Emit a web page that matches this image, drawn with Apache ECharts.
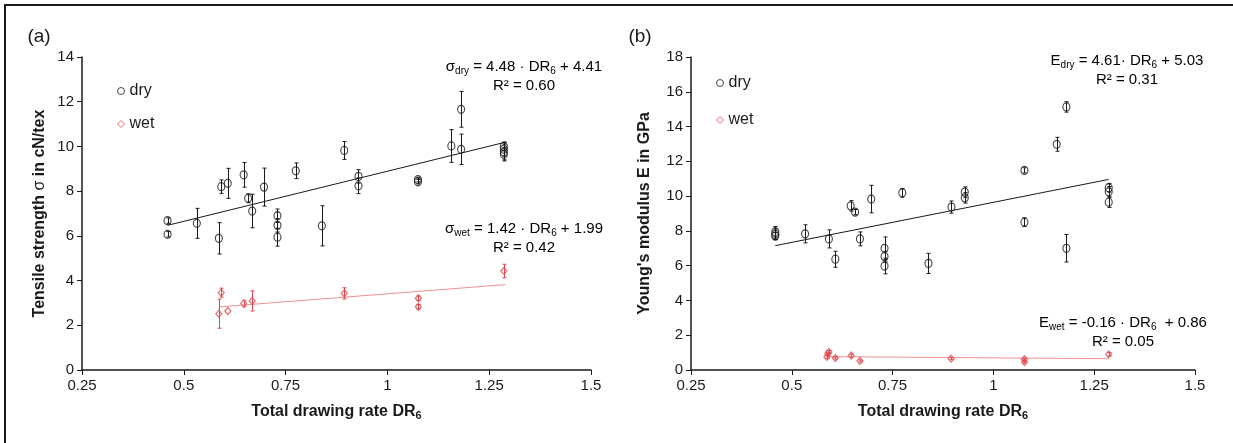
<!DOCTYPE html>
<html>
<head>
<meta charset="UTF-8">
<title>DR6 - tensile strength / Young's modulus</title>
<style>
    html, body { margin: 0; padding: 0; background: #fff; }
    #chart { width: 1233px; height: 443px; }
</style>
</head>
<body>
<div id="chart"></div>
<script src="https://cdn.jsdelivr.net/npm/echarts@6/dist/echarts.min.js"></script>
<script>
// points are [DR6, mean, std]
var strengthDry = [
    [0.46, 6.68, 0.12], [0.46, 6.07, 0.12], [0.532, 6.56, 0.67], [0.586, 5.89, 0.7],
    [0.592, 8.2, 0.3], [0.608, 8.35, 0.67], [0.647, 8.73, 0.55], [0.658, 7.68, 0.2],
    [0.668, 7.11, 0.75], [0.697, 8.18, 0.85], [0.73, 6.9, 0.3], [0.73, 6.47, 0.3],
    [0.73, 5.94, 0.4], [0.775, 8.91, 0.35], [0.839, 6.45, 0.9], [0.894, 9.82, 0.4],
    [0.929, 8.66, 0.3], [0.929, 8.24, 0.35], [1.075, 8.42, 0.1], [1.075, 8.52, 0.1],
    [1.157, 10.02, 0.73], [1.181, 11.66, 0.8], [1.181, 9.87, 0.68], [1.286, 10.0, 0.2],
    [1.286, 9.87, 0.3], [1.286, 9.75, 0.35], [1.286, 9.65, 0.3]
];
var strengthWet = [
    [0.586, 2.52, 0.65], [0.592, 3.46, 0.2], [0.608, 2.64, 0], [0.647, 2.97, 0.15],
    [0.668, 3.09, 0.45], [0.894, 3.43, 0.25], [1.076, 3.21, 0.1], [1.076, 2.83, 0.1],
    [1.286, 4.43, 0.3]
];
var modulusDry = [
    [0.459, 7.95, 0.3], [0.459, 7.8, 0.3], [0.459, 7.7, 0.2], [0.533, 7.83, 0.52],
    [0.592, 7.54, 0.52], [0.608, 6.37, 0.46], [0.646, 9.44, 0.3], [0.657, 9.08, 0.15],
    [0.669, 7.54, 0.4], [0.697, 9.83, 0.79], [0.73, 7.0, 0.65], [0.73, 6.52, 0.3],
    [0.73, 5.98, 0.45], [0.774, 10.19, 0.25], [0.839, 6.13, 0.58], [0.896, 9.37, 0.35],
    [0.929, 10.23, 0.3], [0.929, 9.9, 0.3], [1.077, 11.48, 0.15], [1.077, 8.5, 0.25],
    [1.157, 12.98, 0.4], [1.181, 15.13, 0.3], [1.181, 7.0, 0.79], [1.286, 10.48, 0.25],
    [1.286, 10.25, 0.3], [1.286, 9.65, 0.3]
];
var modulusWet = [
    [0.587, 0.75, 0.08], [0.589, 0.94, 0.08], [0.592, 1.04, 0.08], [0.608, 0.69, 0.06],
    [0.647, 0.83, 0.08], [0.669, 0.52, 0.06], [0.895, 0.65, 0.06], [1.077, 0.62, 0.06],
    [1.077, 0.46, 0.06], [1.286, 0.9, 0.1]
];
// fit line end points
var strengthDryFit = [[0.46, 6.47], [1.29, 10.19]];
var strengthWetFit = [[0.586, 2.82], [1.29, 3.82]];
var modulusDryFit = [[0.459, 7.15], [1.286, 10.96]];
var modulusWetFit = [[0.587, 0.77], [1.286, 0.65]];

var xTicks = { min: 0.25, max: 1.5, interval: 0.25 };
var strengthTicks = { min: 0, max: 14, interval: 2 };
var modulusTicks = { min: 0, max: 18, interval: 2 };

var font = '"Liberation Sans", Arial, sans-serif';
var ink = '#1a1a1a';
var red = '#e0464e';
var redLine = '#f09090';

var chart = echarts.init(document.getElementById('chart'));

function errorBars(color) {
    return function (params, api) {
        var x = api.value(0), y = api.value(1), e = api.value(2);
        if (!e) return null;
        var top = api.coord([x, y + e]), bot = api.coord([x, y - e]);
        var cx = Math.round(top[0]) + 0.5, c = 2;
        var st = { stroke: color, lineWidth: 1 };
        return {
            type: 'group',
            children: [
                { type: 'line', shape: { x1: cx, y1: top[1], x2: cx, y2: bot[1] }, style: st },
                { type: 'line', shape: { x1: cx - c, y1: top[1], x2: cx + c, y2: top[1] }, style: st },
                { type: 'line', shape: { x1: cx - c, y1: bot[1], x2: cx + c, y2: bot[1] }, style: st }
            ]
        };
    };
}

var titleRich = {
    b: { fontSize: 16, fontWeight: 'bold', fontFamily: font, color: ink },
    n: { fontSize: 16, fontFamily: font, color: ink },
    s: { fontSize: 11, fontWeight: 'bold', fontFamily: font, color: ink, padding: [8, 0, 0, 0] }
};

function xAxisFor(gi) {
    return {
        type: 'value', gridIndex: gi,
        min: xTicks.min, max: xTicks.max, interval: xTicks.interval,
        name: '{b|Total drawing rate DR}{s|6}',
        nameLocation: 'middle', nameGap: 32,
        nameTextStyle: { rich: titleRich },
        axisLine: { onZero: false, lineStyle: { color: ink, width: 1.5 } },
        axisTick: { length: 5, lineStyle: { color: ink } },
        axisLabel: { fontSize: 15, color: ink, fontFamily: font, margin: 8 },
        splitLine: { show: false }
    };
}

function yAxisFor(gi, ticks, name, gap) {
    return {
        type: 'value', gridIndex: gi,
        min: ticks.min, max: ticks.max, interval: ticks.interval,
        name: name, nameLocation: 'middle', nameGap: gap,
        nameTextStyle: { rich: titleRich },
        axisLine: { onZero: false, lineStyle: { color: ink, width: 1.5 } },
        axisTick: { length: 5, lineStyle: { color: ink } },
        axisLabel: { fontSize: 15, color: ink, fontFamily: font, margin: 8 },
        splitLine: { show: false }
    };
}

function points(name, data, gi, symbol, size, color) {
    return {
        name: name, type: 'scatter', xAxisIndex: gi, yAxisIndex: gi,
        data: data, symbol: symbol, symbolSize: size, z: 4,
        itemStyle: { color: 'rgba(0,0,0,0)', borderColor: color, borderWidth: 1.2 }
    };
}

function bars(data, gi, color) {
    return {
        name: 'err', type: 'custom', xAxisIndex: gi, yAxisIndex: gi,
        data: data, renderItem: errorBars(color), encode: { x: 0, y: 1 }, z: 3, silent: true
    };
}

function fit(data, gi, color) {
    return {
        name: 'fit', type: 'line', xAxisIndex: gi, yAxisIndex: gi,
        data: data, symbol: 'none', z: 2, silent: true,
        lineStyle: { color: color, width: 1 }
    };
}

var eqRich = {
    t: { fontSize: 15, fontFamily: font, color: ink, lineHeight: 19 },
    s: { fontSize: 10, fontFamily: font, color: ink, padding: [9, 0, 0, 0] }
};

function equation(text, x, y) {
    return {
        type: 'text', x: x, y: y,
        style: { text: text, rich: eqRich, align: 'center', verticalAlign: 'middle' }
    };
}

function legendFor(left, top, gap) {
    return {
        left: left, top: top, orient: 'vertical',
        itemWidth: 7, itemHeight: 7, itemGap: gap, selectedMode: false,
        textStyle: { fontSize: 16, fontFamily: font, color: ink },
        data: [
            { name: 'dry', icon: 'circle', itemStyle: { color: 'rgba(0,0,0,0)', borderColor: ink, borderWidth: 1 } },
            { name: 'wet', icon: 'diamond', itemStyle: { color: 'rgba(0,0,0,0)', borderColor: red, borderWidth: 1 } }
        ]
    };
}

var option = {
    animation: false,
    backgroundColor: '#fff',
    textStyle: { fontFamily: font },
    grid: [
        { left: 82, right: 642, top: 57, bottom: 73 },
        { left: 691, right: 38, top: 57, bottom: 73 }
    ],
    xAxis: [xAxisFor(0), xAxisFor(1)],
    yAxis: [
        yAxisFor(0, strengthTicks, '{b|Tensile strength }{n|σ}{b| in cN/tex}', 34),
        yAxisFor(1, modulusTicks, "{b|Young's modulus E in GPa}", 38)
    ],
    legend: [legendFor(112, 78, 17), legendFor(711, 70, 21)],
    graphic: [
        { type: 'rect', shape: { x: 5, y: 5, width: 1240, height: 450 }, style: { fill: 'none', stroke: ink, lineWidth: 2 } },
        { type: 'text', x: 39, y: 37, style: { text: '(a)', font: '19px ' + font, fill: ink, align: 'center', verticalAlign: 'middle' } },
        { type: 'text', x: 640, y: 37, style: { text: '(b)', font: '19px ' + font, fill: ink, align: 'center', verticalAlign: 'middle' } },
        equation('{t|σ}{s|dry}{t| = 4.48 · DR}{s|6}{t| + 4.41}\n{t|R² = 0.60}', 524, 76),
        equation('{t|σ}{s|wet}{t| = 1.42 · DR}{s|6}{t| + 1.99}\n{t|R² = 0.42}', 524, 238),
        equation('{t|E}{s|dry}{t| = 4.61· DR}{s|6}{t| + 5.03}\n{t|R² = 0.31}', 1127, 70),
        equation('{t|E}{s|wet}{t| = -0.16 · DR}{s|6}{t|  + 0.86}\n{t|R² = 0.05}', 1123, 332)
    ],
    series: [
        fit(strengthDryFit, 0, ink),
        fit(strengthWetFit, 0, redLine),
        bars(strengthDry, 0, ink),
        bars(strengthWet, 0, red),
        points('dry', strengthDry, 0, 'circle', [7, 8], ink),
        points('wet', strengthWet, 0, 'diamond', [6, 7], red),
        fit(modulusDryFit, 1, ink),
        fit(modulusWetFit, 1, redLine),
        bars(modulusDry, 1, ink),
        bars(modulusWet, 1, red),
        points('dry', modulusDry, 1, 'circle', [7, 8], ink),
        points('wet', modulusWet, 1, 'diamond', [6, 7], red)
    ]
};

chart.setOption(option);
</script>
</body>
</html>
